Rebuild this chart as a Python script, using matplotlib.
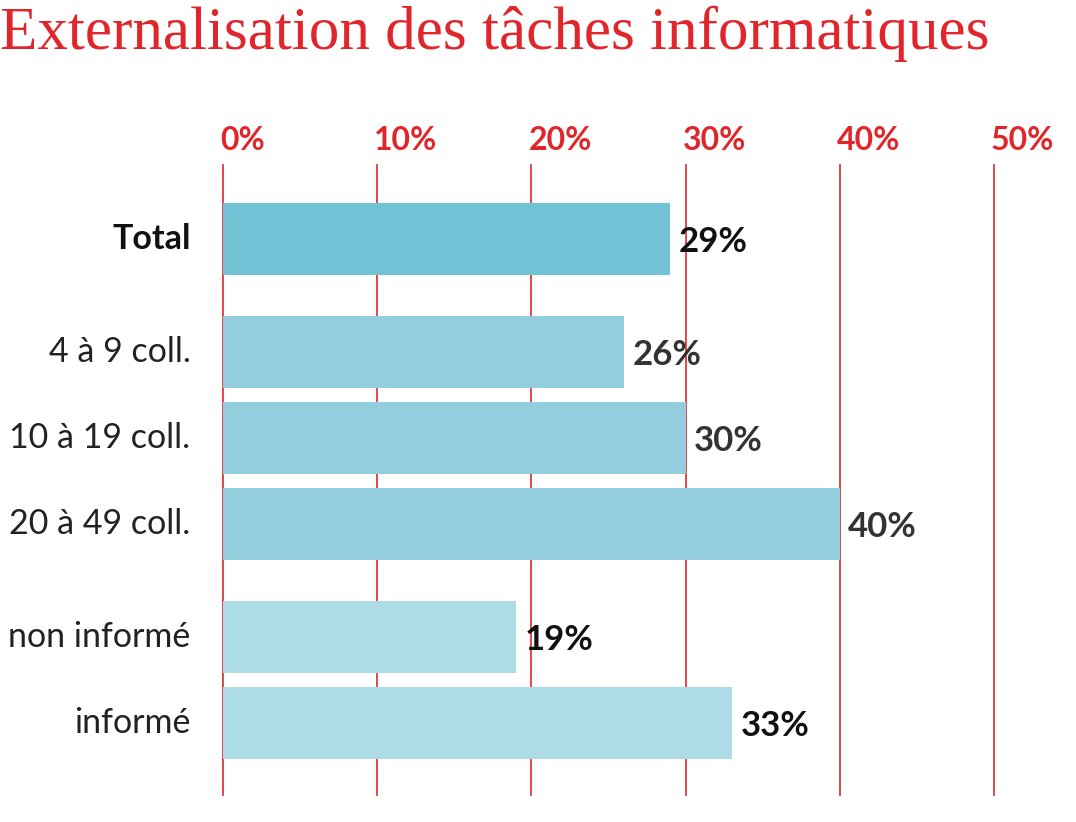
import matplotlib as mpl
mpl.use('Agg')
import matplotlib.pyplot as plt

categories = ['Total', '4 à 9 coll.', '10 à 19 coll.', '20 à 49 coll.', 'non informé', 'informé']
values = [29, 26, 30, 40, 19, 33]
positions = [0, 1.314, 2.314, 3.314, 4.628, 5.628]
ticks = [0, 10, 20, 30, 40, 50]

red = '#e0262b'
bar_colors = ['#72c2d6', '#92cede', '#92cede', '#92cede', '#addce6', '#addce6']
value_colors = ['#111111', '#333333', '#333333', '#333333', '#111111', '#111111']

fig = plt.figure(figsize=(10.76, 8.22), dpi=100)
ax = fig.add_axes([223/1076, 1 - 795/822, (994-223)/1076, (795-165)/822])

ax.barh(positions, values, height=0.837, color=bar_colors, zorder=2)
ax.set_xlim(0, 50)
ax.set_ylim(6.465, -0.860)

for t in ticks:
    ax.axvline(t, color=red, lw=1.2, zorder=1, clip_on=False)
    ax.text(t - 0.2, -1.15, '%d%%' % t, color=red, fontsize=23, fontweight='bold',
            family='Lato', ha='left', va='center', clip_on=False)

for i, (pos, val) in enumerate(zip(positions, values)):
    ax.text(val + 0.55, pos + 0.03, '%d%%' % val, fontsize=25, fontweight='bold',
            family='Lato', color=value_colors[i], va='center', ha='left', zorder=3)
    ax.text(-2.1, pos, categories[i], fontsize=24.5,
            fontweight='bold' if i == 0 else 'normal', family='Lato',
            color='#111111' if i == 0 else '#222222', va='center', ha='right', clip_on=False)

for s in ax.spines.values():
    s.set_visible(False)
ax.set_xticks([])
ax.set_yticks([])

fig.text(0.0, 1 - 34/822, 'Externalisation des tâches informatiques', color=red,
         fontsize=44, family='Liberation Serif', ha='left', va='center')

fig.savefig('out.png', dpi=100)
